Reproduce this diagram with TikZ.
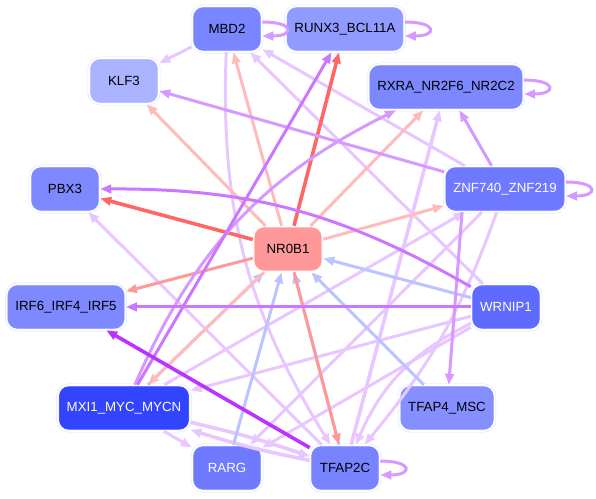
\documentclass[tikz,border=0pt]{standalone}
\usepackage{fontspec}
\setmainfont{Liberation Sans}
\usetikzlibrary{arrows.meta}

% node fills
\definecolor{cmbd}{HTML}{7A86FF}
\definecolor{crunx}{HTML}{919BFF}
\definecolor{cklf}{HTML}{AAB3FF}
\definecolor{crxra}{HTML}{7D88FF}
\definecolor{cpbx}{HTML}{7F89FF}
\definecolor{cznf}{HTML}{6E79FF}
\definecolor{cnr}{HTML}{FF9999}
\definecolor{cirf}{HTML}{7F89FF}
\definecolor{cwrnip}{HTML}{5F6BFF}
\definecolor{cmxi}{HTML}{3344FF}
\definecolor{ctfapf}{HTML}{858FFF}
\definecolor{crarg}{HTML}{6F7AFF}
\definecolor{ctfapc}{HTML}{7883FF}
\definecolor{rim}{HTML}{DDE1FF}
% edge colours
\definecolor{ered}{HTML}{FF6666}
\definecolor{epink}{HTML}{FF9999}
\definecolor{elpink}{HTML}{FFBBBB}
\definecolor{eblue}{HTML}{BBC4FF}
\definecolor{epurple}{HTML}{BB33FF}
\definecolor{eviolet}{HTML}{CC77FF}
\definecolor{emviolet}{HTML}{D699FF}
\definecolor{elviolet}{HTML}{E8C6FF}

\begin{document}
\begin{tikzpicture}[x=1pt, y=1pt,
    gene/.style={rectangle, rounded corners=11pt, draw=rim, double=white,
      double distance=1.6pt, line width=0.5pt, minimum width=70pt,
      minimum height=46pt, inner xsep=9pt, font=\fontsize{13.3}{16}\selectfont},
    wtxt/.style={text=white},
    lnk/.style={line width=3pt, -{Triangle[length=11pt,width=8.5pt]}},
    strong/.style={line width=3.6pt},
    rd/.style={draw=ered}, pk/.style={draw=epink}, lpk/.style={draw=elpink},
    bl/.style={draw=eblue}, pu/.style={draw=epurple}, vi/.style={draw=eviolet},
    mv/.style={draw=emviolet}, lv/.style={draw=elviolet},
    selfloop/.style={lnk, mv, looseness=6}
  ]
    \useasboundingbox (0,0) rectangle (596,498);

    % 1. nodes (circular layout, top to bottom)
    \node [gene, fill=cmbd] (mbd) at (227,469) {MBD2};
    \node [gene, fill=crunx] (runx) at (345,469) {RUNX3\_BCL11A};
    \node [gene, fill=cklf] (klf) at (124,417) {KLF3};
    \node [gene, fill=crxra] (rxra) at (446,411) {RXRA\_NR2F6\_NR2C2};
    \node [gene, fill=cpbx] (pbx) at (65,309) {PBX3};
    \node [gene, fill=cznf, wtxt] (znf) at (505,309) {ZNF740\_ZNF219};
    \node [gene, fill=cnr, draw=white] (nr) at (288,249) {NR0B1};
    \node [gene, fill=cirf] (irf) at (66,191) {IRF6\_IRF4\_IRF5};
    \node [gene, fill=cwrnip, wtxt] (wrnip) at (506,191) {WRNIP1};
    \node [gene, fill=cmxi, wtxt] (mxi) at (124,90) {MXI1\_MYC\_MYCN};
    \node [gene, fill=ctfapf] (tfapf) at (447,90) {TFAP4\_MSC};
    \node [gene, fill=crarg, wtxt] (rarg) at (227,30) {RARG};
    \node [gene, fill=ctfapc] (tfapc) at (345,30) {TFAP2C};

    % 2. light links (drawn first, under the strong ones)
    \draw [lnk, lv] (mbd) -- (klf);
    \draw [lnk, lv] (wrnip) -- (mbd);
    \draw [lnk, lv] (znf) -- (mbd);
    \draw [lnk, lv] (mbd) to [bend right=17] (tfapc);
    \draw [lnk, lv] (mxi) -- (znf);
    \draw [lnk, lv] (wrnip) -- (mxi);
    \draw [lnk, lv, strong] (mxi) to [bend left=3] (tfapc);
    \draw [lnk, lv, strong] (tfapc) to [bend left=3] (mxi);
    \draw [lnk, lv] (mxi) -- (rarg);
    \draw [lnk, lv, strong] (tfapc) -- (rxra);
    \draw [lnk, lv] (tfapc) -- (pbx);
    \draw [lnk, lv] (wrnip) -- (rarg);
    \draw [lnk, lv] (znf) -- (rarg);
    \draw [lnk, lv] (wrnip) to [bend right=20] (tfapc);
    \draw [lnk, lv] (znf) to [bend left=10] (tfapc);

    % 3. links into NR0B1
    \draw [lnk, bl] (wrnip) -- (nr);
    \draw [lnk, bl] (tfapf) -- (nr);
    \draw [lnk, bl] (tfapc) -- (nr);
    \draw [lnk, bl] (rarg) -- (nr);
    \draw [lnk, bl] (mxi) -- (nr);

    % 4. links out of NR0B1
    \draw [lnk, lpk] (nr) -- (klf);
    \draw [lnk, lpk] (nr) -- (mbd);
    \draw [lnk, lpk] (nr) -- (rxra);
    \draw [lnk, lpk] (nr) -- (znf);
    \draw [lnk, lpk] (nr) -- (mxi);
    \draw [lnk, pk] (nr) -- (tfapc);
    \draw [lnk, pk] (nr) -- (irf);
    \draw [lnk, rd, strong] (nr) -- (pbx);
    \draw [lnk, rd, strong] (nr) -- (runx);

    % 5. violet links
    \draw [lnk, mv] (mxi) to [bend left=20] (rxra);
    \draw [lnk, mv] (znf) -- (klf);
    \draw [lnk, mv] (znf) -- (rxra);
    \draw [lnk, mv] ([xshift=-43pt]znf.south) -- (tfapf);
    \draw [lnk, vi] (mxi) -- (runx);
    \draw [lnk, vi] (wrnip) -- (irf);
    \draw [lnk, vi] (wrnip) to [bend right=15] (pbx);
    \draw [lnk, pu, strong] (tfapc) -- (irf);

    % 6. self loops
    \draw [selfloop] ([yshift=7pt]mbd.east) to [out=0, in=0] ([yshift=-7pt]mbd.east);
    \draw [selfloop] ([yshift=7pt]runx.east) to [out=0, in=0] ([yshift=-7pt]runx.east);
    \draw [selfloop] ([yshift=7pt]rxra.east) to [out=0, in=0] ([yshift=-7pt]rxra.east);
    \draw [selfloop] ([yshift=7pt]znf.east) to [out=0, in=0] ([yshift=-7pt]znf.east);
    \draw [selfloop] ([yshift=7pt]tfapc.east) to [out=0, in=0] ([yshift=-7pt]tfapc.east);
\end{tikzpicture}
\end{document}
